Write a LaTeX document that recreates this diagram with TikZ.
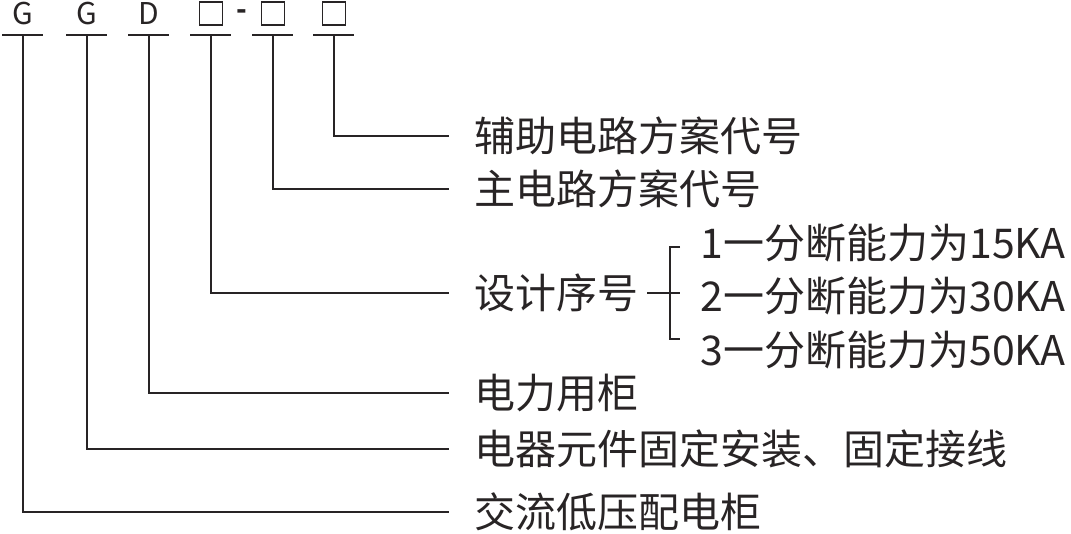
\documentclass[tikz,border=0pt]{standalone}
\usepackage{fontspec}
\newfontfamily\cjk{Noto Sans CJK SC}
\usetikzlibrary{positioning}
\definecolor{ink}{RGB}{40,36,37}
\begin{document}
\begin{tikzpicture}[x=1pt, y=-1pt, line width=1.3pt, draw=ink,
    code/.style={font=\cjk\fontsize{30}{32}\selectfont, text=ink, inner sep=0, anchor=base},
    sq/.style={draw=ink, minimum size=23pt, inner sep=0},
    lab/.style={anchor=west, inner sep=0, font=\cjk\fontsize{41}{44}\selectfont, text=ink},
    link/.style={ink}]
  \useasboundingbox (0,0) rectangle (1071,533);

  % model code
  \node[code] (g1) at (23,24.5) {G};
  \node[code] (g2) at (87,24.5) {G};
  \node[code] (d) at (149,24.5) {D};
  \node[sq] (q1) at (211,13.5) {};
  \node[code, font=\cjk\bfseries\fontsize{28}{30}\selectfont] (dash) at (241.5,19.5) {-};
  \node[sq] (q2) at (273,13.5) {};
  \node[sq] (q3) at (334,13.5) {};

  \foreach \x/\n in {23/1,87/2,149/3,211/4,273/5,334/6} {
    \coordinate (b\n) at (\x,35);
    \draw[link] ([xshift=-21pt]b\n) -- ([xshift=20pt]b\n);
  }

  % meanings
  \node[lab] (l6) at (474,136) {辅助电路方案代号};
  \node[lab] (l5) at (474,189) {主电路方案代号};
  \node[lab] (l4) at (474,293) {设计序号};
  \node[lab] (l3) at (474,393) {电力用柜};
  \node[lab] (l2) at (474,449) {电器元件固定安装、固定接线};
  \node[lab] (l1) at (474,512) {交流低压配电柜};

  \foreach \n in {1,...,6}
    \draw[link] (b\n) |- ([xshift=-25pt]l\n.west);

  % breaking capacity
  \node[lab] (k1) at (700,243) {1一分断能力为15KA};
  \node[lab] (k2) at (700,296) {2一分断能力为30KA};
  \node[lab] (k3) at (700,350) {3一分断能力为50KA};

  \coordinate (brace) at (670,293);
  \draw[link] ([xshift=-23pt]brace) -- ([xshift=10pt]brace);
  \draw[link] ([xshift=10pt]brace |- 0,247) -| (brace |- 0,339) -- ([xshift=10pt]brace |- 0,339);
\end{tikzpicture}
\end{document}
